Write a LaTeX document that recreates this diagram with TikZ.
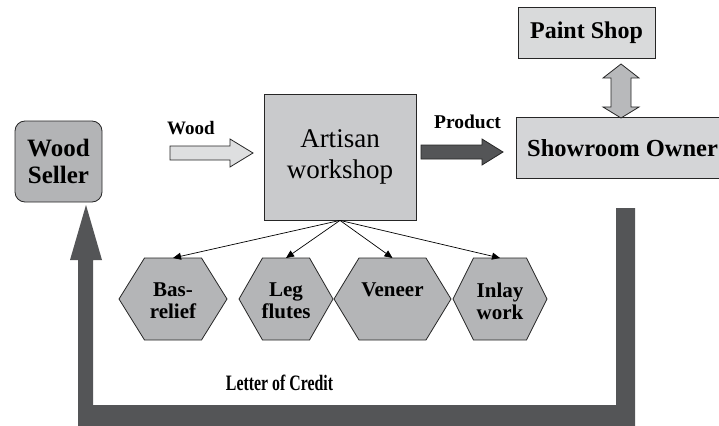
\documentclass[tikz,border=0pt]{standalone}
\usepackage{fontspec}
\setmainfont{Liberation Serif}
\usetikzlibrary{arrows.meta}
\definecolor{boxgray}{HTML}{B3B4B6}
\definecolor{workgray}{HTML}{C9CACC}
\definecolor{showgray}{HTML}{D4D5D7}
\definecolor{paintgray}{HTML}{D9DADB}
\definecolor{hexgray}{HTML}{B4B5B7}
\definecolor{lightarrow}{HTML}{DEDFE0}
\definecolor{darkarrow}{HTML}{545557}
\definecolor{midarrow}{HTML}{B8B9BB}
\tikzset{
  outline/.style={draw=black!85, line width=0.8pt},
  boldtext/.style={font=\bfseries\fontsize{#1}{#1}\selectfont, align=center, inner sep=0pt},
  branch/.style={draw=black, line width=0.7pt, -{Triangle[length=8pt,width=7pt]}},
}
% flat-topped hexagon: name, centre x, half width, half top width, text
\newcommand\hexcell[5]{%
  \path[outline, fill=hexgray] (#2-#3,299) -- (#2-#4,258) -- (#2+#4,258)
    -- (#2+#3,299) -- (#2+#4,340) -- (#2-#4,340) -- cycle;
  \coordinate (#1-top) at (#2,258);
  \node[boldtext=21, text depth=0pt] (#1) at (#2,301) {#5};
}
\begin{document}
\begin{tikzpicture}[x=1pt,y=-1pt]
\useasboundingbox (0,0) rectangle (719,425);
\clip (0,0) rectangle (719,425);

% suppliers and buyers
\node[outline, fill=boxgray, rounded corners=10pt, minimum width=87pt, minimum height=81pt,
      boldtext=25, inner sep=0pt] (seller) at (58.5,161.5) {Wood\\[2pt]Seller};
\node[outline, fill=workgray, minimum width=152pt, minimum height=126pt, inner sep=0pt,
      align=center, font=\fontsize{27}{31}\selectfont] (workshop) at (340,157) {Artisan\\workshop};
\node[outline, fill=showgray, minimum width=210pt, minimum height=61pt, inner sep=0pt,
      anchor=west] (showroom) at (516,147.5) {};
\node[boldtext=24.5, anchor=west] (showlabel) at (527,148) {Showroom Owner};
\node[outline, fill=paintgray, minimum width=137pt, minimum height=51pt, inner sep=0pt,
      boldtext=24] (paint) at (586.5,32.5) {Paint Shop};

% wood in, product out
\path[outline, fill=lightarrow] (170,146) -- (230,146) -- (230,139) -- (253,153)
  -- (230,167) -- (230,160) -- (170,160) -- cycle;
\node[boldtext=19] (woodlabel) at (191,128) {Wood};
\path[outline, fill=darkarrow] (421,145) -- (482,145) -- (482,139) -- (503,152)
  -- (482,165) -- (482,159) -- (421,159) -- cycle;
\node[boldtext=19.5] (productlabel) at (467.5,122) {Product};

% exchange with the paint shop
\path[outline, fill=midarrow] (621,64) -- (639,78) -- (631,78) -- (631,107) -- (639,107)
  -- (621,118) -- (603,107) -- (611,107) -- (611,78) -- (603,78) -- cycle;

% crafts
\hexcell{basrelief}{173}{54}{28.5}{Bas-\\[1pt]relief}
\hexcell{legflutes}{286}{47}{23.5}{Leg\\[1pt]flutes}
\hexcell{veneer}{392.5}{58.5}{33.5}{Veneer\\[1pt]\strut}
\hexcell{inlay}{500}{47}{26.5}{Inlay\\[1pt]work}
\foreach \t in {basrelief,legflutes,veneer,inlay}
  \draw[branch] (workshop.south) -- (\t-top);

% payment loop
\path[fill=darkarrow] (616,208) -- (635,208) -- (635,430) -- (78,430) -- (78,260)
  -- (70,260) -- (86,205) -- (102,260) -- (93,260) -- (93,405) -- (616,405) -- cycle;
\node[boldtext=22] (credit) at (279.5,383) {\scalebox{0.72}[1]{Letter of Credit}};
\end{tikzpicture}
\end{document}
